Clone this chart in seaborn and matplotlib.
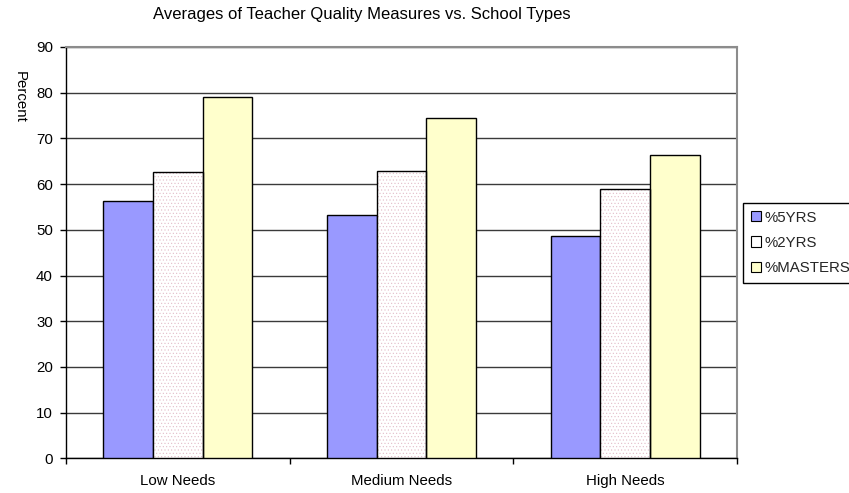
import numpy as np
import pandas as pd
import matplotlib
matplotlib.use("Agg")
import matplotlib.pyplot as plt
import seaborn as sns
from matplotlib.patches import Patch, Rectangle

# Averages of teacher quality measures by school type (percent)
school_types = ["Low Needs", "Medium Needs", "High Needs"]
measures = ["%5YRS", "%2YRS", "%MASTERS"]
pct_5yrs = [56.4, 53.2, 48.6]
pct_2yrs = [62.7, 62.9, 58.9]
pct_masters = [79.0, 74.5, 66.4]
y_ticks = list(range(0, 100, 10))

sns.set_theme(style="white")
plt.rcParams["font.family"] = ["Liberation Sans", "DejaVu Sans"]
plt.rcParams["hatch.linewidth"] = 0.4

df = pd.DataFrame({
    "School Type": school_types * 3,
    "Measure": np.repeat(measures, len(school_types)),
    "Percent": pct_5yrs + pct_2yrs + pct_masters,
})

colors = {"%5YRS": "#9999ff", "%2YRS": "#ffffff", "%MASTERS": "#ffffcc"}
dot_color = "#e2bcc8"
fs = 10.8

W, H = 849, 493
fig = plt.figure(figsize=(W / 100, H / 100), dpi=100)
ax = fig.add_axes([66 / W, 1 - 458.3 / H, 671 / W, 411.3 / H])

sns.barplot(data=df, x="School Type", y="Percent", hue="Measure",
            order=school_types, hue_order=measures, palette=colors,
            width=0.667, edgecolor="black", linewidth=1.0, saturation=1,
            legend=False, ax=ax, zorder=3)

# dotted fill for the %2YRS bars, with a crisp black outline on top
for p in ax.containers[1]:
    p.set_hatch(".....")
    p.set_edgecolor(dot_color)
    p.set_linewidth(0)
    ax.add_patch(Rectangle(p.get_xy(), p.get_width(), p.get_height(),
                           fill=False, edgecolor="black", linewidth=1.0,
                           zorder=4))

ax.set_ylim(0, 90)
ax.set_xlim(-0.5, len(school_types) - 0.5)
ax.set_yticks(y_ticks)
ax.set_axisbelow(True)
ax.yaxis.grid(True, color="#3a3a3a", linewidth=1.0)
ax.xaxis.grid(False)

ax.set_xlabel("")
ax.set_ylabel("")
ax.tick_params(axis="y", which="major", direction="out", length=4.5,
               width=1, color="black", labelsize=fs, pad=5,
               labelcolor="black", left=True)
ax.tick_params(axis="x", which="major", length=0, labelsize=fs, pad=11,
               labelcolor="black")
ax.set_xticks(np.arange(-0.5, len(school_types), 1.0), minor=True)
ax.tick_params(axis="x", which="minor", direction="out", length=4,
               width=1, color="black", bottom=True)

for side in ("left", "bottom"):
    ax.spines[side].set_color("black")
    ax.spines[side].set_linewidth(1.0)
for side in ("top", "right"):
    ax.spines[side].set_color("#8c8c8c")
    ax.spines[side].set_linewidth(1.5)

fig.text(362 / W, 1 - 14 / H,
         "Averages of Teacher Quality Measures vs. School Types",
         ha="center", va="center", fontsize=12, color="black")
fig.text(20 / W, 1 - 97 / H, "Percent", rotation=-90,
         ha="center", va="center", fontsize=fs, color="black")

handles = [Patch(facecolor=colors[m], edgecolor="black", linewidth=0.8)
           for m in measures]
leg = fig.legend(handles=handles, labels=measures, loc="upper left",
                 bbox_to_anchor=(743 / W, 1 - 203 / H),
                 bbox_transform=fig.transFigure,
                 frameon=True, fancybox=False, framealpha=1,
                 edgecolor="black", fontsize=fs,
                 handlelength=0.67, handleheight=0.67, handletextpad=0.25,
                 labelspacing=0.75, borderpad=0.5, borderaxespad=0)
leg.get_frame().set_linewidth(1.0)

fig.savefig("out.png", dpi=100)
